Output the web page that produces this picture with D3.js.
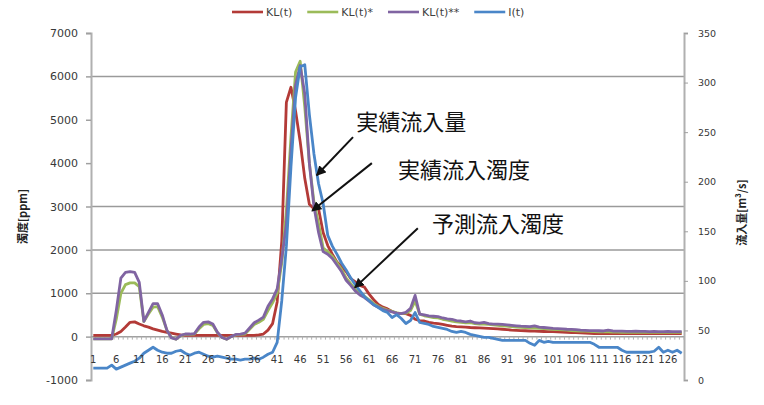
<!DOCTYPE html>
<html>
<head>
<meta charset="utf-8">
<script src="https://cdn.jsdelivr.net/npm/d3@7"></script>
<style>
  html, body { margin: 0; padding: 0; background: #fff; }
  svg { display: block; }
  .tick text { font-family: "DejaVu Sans", sans-serif; fill: #383838; }
</style>
</head>
<body>
<svg id="chart" width="764" height="405"></svg>
<script>
// categories 1..129 (time steps)
const categories = d3.range(1, 130);

// turbidity, observed [ppm]
const klObs = [
  30,30,30,30,30,60,120,220,330,340,
  290,250,220,180,150,120,100,80,60,40,
  30,30,30,30,30,30,30,30,30,30,
  30,30,30,30,30,30,40,60,150,300,
  800,2200,5400,5750,5200,4500,3650,3050,2950,2950,
  2400,2100,1900,1720,1620,1500,1340,1260,1180,1140,
  980,850,740,680,640,580,540,530,530,490,
  400,370,360,330,310,300,280,260,240,230,
  225,220,210,205,200,195,190,185,180,170,
  160,150,145,140,135,130,125,120,118,116,
  115,110,105,100,95,90,85,80,75,70,
  70,70,70,70,70,70,70,70,70,70,
  70,70,70,70,70,70,70,70,70
];

// turbidity, predicted (case *)
const klPred1 = [
  -50,-50,-50,-50,-50,400,1000,1200,1240,1240,
  1150,350,520,680,690,450,150,-20,-60,20,
  50,50,60,180,280,300,260,90,-20,-60,
  0,40,50,60,170,280,330,400,600,780,
  1000,1700,2900,4600,6100,6350,5300,4000,3100,2600,
  2050,1950,1850,1700,1550,1350,1220,1100,1000,930,
  850,760,700,650,610,580,550,530,540,600,
  820,520,480,460,440,430,400,380,360,340,
  330,320,320,300,290,290,280,270,260,250,
  240,230,220,215,210,200,195,190,185,180,
  170,160,155,150,140,135,130,125,120,115,
  110,110,110,105,105,100,100,100,100,100,
  100,100,100,100,100,100,100,100,100
];

// turbidity, predicted (case **)
const klPred2 = [
  -50,-50,-50,-50,-50,600,1350,1480,1500,1480,
  1250,350,560,760,760,500,150,-30,-60,30,
  60,60,70,220,330,340,290,100,-20,-60,
  0,50,60,80,200,320,380,450,700,870,
  1100,1800,2600,4300,5800,6250,5600,4000,3000,2400,
  1960,1900,1800,1650,1500,1300,1180,1050,960,900,
  820,730,680,630,600,570,540,530,560,650,
  950,520,500,480,470,460,430,410,400,370,
  360,340,360,320,310,330,300,290,290,280,
  270,260,250,240,235,230,250,220,210,200,
  190,185,180,170,165,160,150,145,140,140,
  135,130,150,130,125,125,120,120,125,120,
  120,115,120,115,115,120,115,115,115
];

// inflow [m3/s], right axis
const inflow = [
  12,12,12,12,15,11,13,15,17,19,
  22,27,30,33,30,28,27,27,29,30,
  27,25,27,28,26,24,23,24,23,22,
  21,21,20,21,21,22,21,23,26,28,
  38,80,135,215,285,316,318,268,228,198,
  178,146,135,127,118,111,103,96,90,84,
  80,76,73,70,68,63,66,62,57,60,
  68,58,57,56,54,53,52,51,49,48,
  49,48,46,45,44,43,43,42,41,40,
  40,40,40,40,40,37,35,40,38,39,
  38,38,38,38,38,38,38,38,38,36,
  33,33,33,33,33,30,28,28,28,28,
  28,28,29,33,28,30,28,30,27
];

const leftTicks = d3.range(-1000, 7001, 1000);
const rightTicks = d3.range(0, 351, 50);
const gridVals = [1000, 2000, 3000, 6000];
const xLabels = categories.filter(c => (c - 1) % 5 === 0);

const seriesNames = ["KL(t)", "KL(t)*", "KL(t)**", "I(t)"];
const seriesColors = ["#b33a37", "#9bbb59", "#8064a2", "#4a86c8"];

// annotations: [category, value on left axis]
const notes = [
  {text: "実績流入量", at: [58.2, 4990]},
  {text: "実績流入濁度", at: [67.3, 3890]},
  {text: "予測流入濁度", at: [74.7, 2640]}
];
const arrows = [
  {from: [57.5, 4600], to: [49.6, 3720]},
  {from: [61.6, 4000], to: [48.6, 2900]},
  {from: [71.6, 2500], to: [57.9, 1130]}
];

const svg = d3.select("#chart");
const pLeft = 91, pRight = 684, pTop = 33, pBottom = 380;

const x = d3.scaleBand().domain(categories).range([pLeft, pRight]);
const bw = x.bandwidth();
const cx = c => x(c) + bw / 2;
const xc = c => pLeft + (c - 0.5) * bw; // fractional category position

const yL = d3.scaleLinear().domain([-1000, 7000]).range([pBottom, pTop]);
const yR = d3.scaleLinear().domain([0, 350]).range([pBottom, pTop]);

// gridlines
svg.append("g").selectAll("line").data(gridVals).enter().append("line")
  .attr("x1", pLeft).attr("x2", pRight)
  .attr("y1", d => yL(d)).attr("y2", d => yL(d))
  .attr("stroke", "#9a9a9a").attr("stroke-width", 1.5);

// left axis
const axL = svg.append("g").attr("transform", `translate(${pLeft},0)`)
  .call(d3.axisLeft(yL).tickValues(leftTicks).tickFormat(d => String(d)).tickSize(5).tickPadding(8));
axL.select(".domain").attr("stroke", "#b0b0b0").attr("stroke-width", 2);
axL.selectAll(".tick line").attr("stroke", "#a0a0a0").attr("stroke-width", 1.5);
axL.selectAll(".tick text").style("font-size", "11px");

// right axis
const axR = svg.append("g").attr("transform", `translate(${pRight},0)`)
  .call(d3.axisRight(yR).tickValues(rightTicks).tickFormat(d => String(d)).tickSize(4).tickPadding(10));
axR.select(".domain").attr("stroke", "#b0b0b0").attr("stroke-width", 2);
axR.selectAll(".tick line").attr("stroke", "#a0a0a0").attr("stroke-width", 1);
axR.selectAll(".tick text").style("font-size", "9.5px");

// category axis at zero
const y0 = yL(0);
svg.append("line").attr("x1", pLeft).attr("x2", pRight).attr("y1", y0).attr("y2", y0)
  .attr("stroke", "#a0a0a0").attr("stroke-width", 1.5);
svg.append("g").selectAll("line").data(categories).enter().append("line")
  .attr("x1", d => x(d) + bw).attr("x2", d => x(d) + bw)
  .attr("y1", y0).attr("y2", y0 + 3)
  .attr("stroke", "#b0b0b0").attr("stroke-width", 1);

// series
const line = (ys, arr) => d3.line().x((d, i) => cx(categories[i])).y(d => ys(d))(arr);
const data = [[klObs, yL], [klPred1, yL], [klPred2, yL], [inflow, yR]];
svg.append("g").selectAll("path").data(data).enter().append("path")
  .attr("d", d => line(d[1], d[0]))
  .attr("fill", "none")
  .attr("stroke", (d, i) => seriesColors[i])
  .attr("stroke-width", 2.8)
  .attr("stroke-linejoin", "round");

// category labels (drawn after lines, like the original)
svg.append("g").selectAll("text").data(xLabels).enter().append("text")
  .attr("x", d => cx(d)).attr("y", y0 + 26)
  .attr("text-anchor", "middle")
  .style("font-family", "DejaVu Sans, sans-serif").style("font-size", "10px")
  .attr("fill", "#383838")
  .text(d => d);

// axis titles
svg.append("text")
  .attr("transform", `translate(27,${(pTop + pBottom) / 2 + 10}) rotate(-90)`)
  .attr("text-anchor", "middle")
  .style("font-family", "Noto Sans CJK JP, sans-serif").style("font-size", "11px").style("font-weight", "bold")
  .attr("fill", "#222").text("濁度[ppm]");
svg.append("text")
  .attr("transform", `translate(746,${(pTop + pBottom) / 2 + 6}) rotate(-90)`)
  .attr("text-anchor", "middle")
  .style("font-family", "Noto Sans CJK JP, sans-serif").style("font-size", "11px").style("font-weight", "bold")
  .attr("fill", "#222").text("流入量[m³/s]");

// legend
const lg = svg.append("g");
let lx = 232;
seriesNames.forEach((name, i) => {
  lg.append("line").attr("x1", lx).attr("x2", lx + 31).attr("y1", 12).attr("y2", 12)
    .attr("stroke", seriesColors[i]).attr("stroke-width", 2.6);
  const t = lg.append("text").attr("x", lx + 34).attr("y", 16)
    .style("font-family", "DejaVu Sans, sans-serif").style("font-size", "11px")
    .attr("fill", "#404040").text(name);
  lx += 34 + t.node().getComputedTextLength() + 15;
});

// arrows
svg.append("defs").append("marker")
  .attr("id", "head").attr("viewBox", "0 0 10 10").attr("refX", 9).attr("refY", 5)
  .attr("markerWidth", 5).attr("markerHeight", 5).attr("orient", "auto")
  .append("path").attr("d", "M0,0L10,5L0,10Z").attr("fill", "#111");
svg.append("g").selectAll("line").data(arrows).enter().append("line")
  .attr("x1", d => xc(d.from[0])).attr("y1", d => yL(d.from[1]))
  .attr("x2", d => xc(d.to[0])).attr("y2", d => yL(d.to[1]))
  .attr("stroke", "#111").attr("stroke-width", 2)
  .attr("marker-end", "url(#head)");

svg.append("g").selectAll("text").data(notes).enter().append("text")
  .attr("x", d => xc(d.at[0])).attr("y", d => yL(d.at[1]))
  .attr("dominant-baseline", "central")
  .style("font-family", "Noto Sans CJK JP, sans-serif").style("font-size", "22px")
  .attr("fill", "#111")
  .text(d => d.text);
</script>
</body>
</html>
